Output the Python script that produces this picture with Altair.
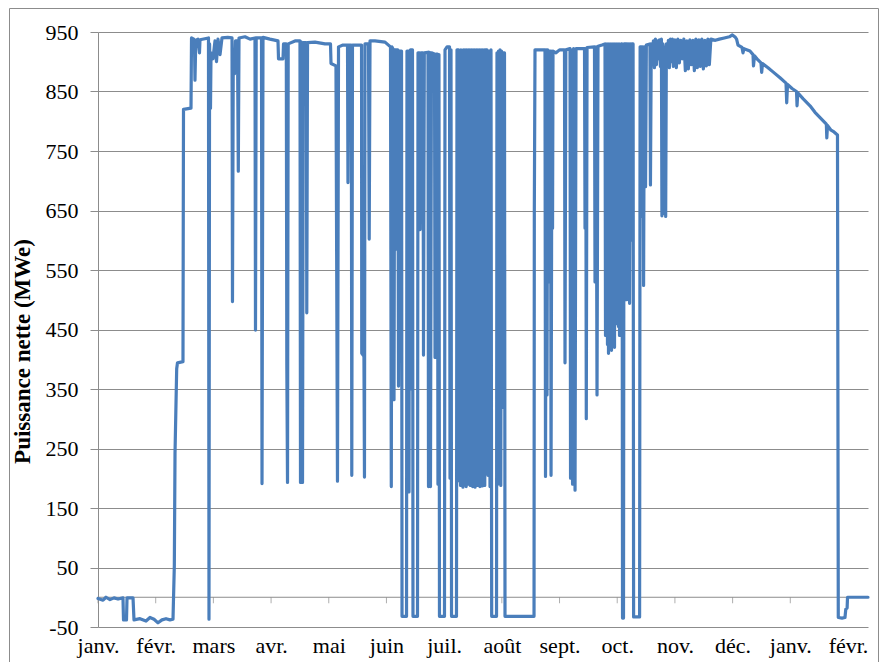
import altair as alt
import pandas as pd

month_labels = ["janv.", "févr.", "mars", "avr.", "mai", "juin", "juil.",
                "août", "sept.", "oct.", "nov.", "déc.", "janv.", "févr."]
month_ticks = list(range(14))
y_ticks = [-50, 50, 150, 250, 350, 450, 550, 650, 750, 850, 950]
y_title = "Puissance nette  (MWe)"

# (position in months from start, net power MWe)
seg_winter = [(0.000, -2), (0.087, -5), (0.139, 0), (0.208, -4), (0.277, -1), (0.347, -3),
              (0.433, -1), (0.442, -38), (0.494, -38), (0.503, -1), (0.607, -1), (0.624, -38),
              (0.728, -36), (0.832, -40), (0.901, -34), (0.971, -37), (1.040, -43), (1.109, -38),
              (1.179, -36), (1.248, -38), (1.300, -37), (1.323, 53), (1.335, 241), (1.364, 384),
              (1.378, 394), (1.473, 396), (1.482, 820), (1.612, 822), (1.621, 940)]
seg_march = [(1.660, 938), (1.672, 935), (1.681, 869), (1.695, 936), (1.733, 938), (1.759, 915),
             (1.768, 937), (1.915, 940), (1.924, -37), (1.934, 930), (1.950, 822), (1.959, 915),
             (1.993, 905), (2.028, 935), (2.054, 900), (2.080, 938), (2.115, 912), (2.149, 940),
             (2.250, 941), (2.323, 940), (2.331, 497), (2.345, 920), (2.366, 880), (2.383, 935),
             (2.418, 935), (2.432, 716), (2.444, 940), (2.548, 942), (2.635, 938), (2.721, 940),
             (2.730, 449), (2.742, 940), (2.834, 940), (2.843, 191), (2.860, 941), (2.981, 938)]
seg_april = [(3.120, 935), (3.129, 905), (3.207, 905), (3.216, 930), (3.264, 930), (3.273, 390),
             (3.285, 193), (3.297, 930), (3.415, 935), (3.501, 935), (3.510, 193), (3.527, 933),
             (3.545, 193), (3.559, 932), (3.611, 932), (3.619, 478), (3.632, 932), (3.761, 933),
             (3.935, 930)]
seg_may = [(4.030, 930), (4.039, 897), (4.125, 893), (4.151, 195), (4.169, 925), (4.247, 928),
           (4.325, 928), (4.333, 697), (4.346, 928), (4.391, 928), (4.399, 205), (4.411, 928),
           (4.507, 928), (4.568, 928), (4.572, 410), (4.610, 405), (4.619, 202), (4.628, 930),
           (4.689, 930), (4.701, 602), (4.715, 935), (4.801, 935), (4.975, 933)]
seg_june = [(5.070, 925), (5.084, 186), (5.096, 925), (5.122, 920), (5.131, 332), (5.143, 920),
            (5.174, 920), (5.183, 585), (5.196, 920), (5.209, 355), (5.226, 918), (5.261, 918),
            (5.270, -32), (5.348, -32), (5.356, 918), (5.382, 918), (5.391, 177), (5.400, 918),
            (5.408, 350), (5.416, 920), (5.451, 920), (5.460, -32), (5.538, -32), (5.547, 915),
            (5.573, 915), (5.582, 618), (5.599, 915), (5.634, 915), (5.642, 407), (5.656, 915),
            (5.720, 916), (5.729, 186), (5.746, 916), (5.763, 186), (5.780, 915), (5.833, 913),
            (5.842, 403), (5.859, 913), (5.884, 913), (5.893, 190), (5.910, 912), (5.919, -32),
            (6.006, -32), (6.015, 920)]
seg_july = [(6.050, 925), (6.093, 925), (6.102, 200), (6.119, 920), (6.128, -32), (6.214, -32),
            (6.223, 920), (6.249, 920), (6.256, 200), (6.263, 918), (6.270, 195), (6.277, 918),
            (6.284, 188), (6.291, 920), (6.298, 205), (6.305, 918), (6.312, 192), (6.319, 918),
            (6.326, 185), (6.333, 920), (6.340, 210), (6.347, 918), (6.354, 190), (6.361, 920),
            (6.368, 452), (6.375, 918), (6.382, 186), (6.389, 920), (6.396, 198), (6.403, 918),
            (6.410, 190), (6.417, 920), (6.424, 230), (6.431, 918), (6.438, 195), (6.445, 920),
            (6.452, 188), (6.459, 918), (6.466, 200), (6.473, 920), (6.480, 192), (6.487, 918),
            (6.494, 186), (6.501, 920), (6.508, 215), (6.515, 918), (6.522, 190), (6.529, 920),
            (6.536, 185), (6.543, 918), (6.550, 205), (6.557, 920), (6.564, 260), (6.571, 918),
            (6.578, 188), (6.585, 920), (6.592, 196), (6.599, 918), (6.606, 192), (6.613, 920),
            (6.620, 186), (6.627, 918), (6.634, 208), (6.641, 920), (6.648, 190), (6.655, 918),
            (6.662, 187), (6.669, 920), (6.676, 200), (6.683, 918), (6.690, 191), (6.697, 920),
            (6.704, 188), (6.711, 918), (6.717, 920), (6.743, 920), (6.760, 205), (6.777, 918),
            (6.795, 186), (6.812, 920), (6.824, -32), (6.908, -32), (6.916, 915), (6.930, 190),
            (6.942, 918), (6.956, 195), (6.968, 920), (6.982, 188), (6.994, 918), (7.008, 319),
            (7.020, 915), (7.046, 915), (7.055, -32)]
seg_aug_sep = [(7.558, -32), (7.563, 644), (7.575, 920), (7.748, 920), (7.757, 203), (7.771, 920),
               (7.783, 340), (7.795, 920), (7.806, 530), (7.818, 918), (7.844, 918), (7.853, 205),
               (7.870, 918), (7.879, 620), (7.887, 918), (7.939, 915), (8.000, 920), (8.086, 920),
               (8.095, 394), (8.109, 920), (8.182, 922), (8.191, 200), (8.208, 920), (8.226, 190),
               (8.243, 922), (8.269, 180), (8.286, 922), (8.433, 922), (8.442, 620), (8.454, 922),
               (8.464, 300), (8.477, 924), (8.606, 925), (8.615, 530), (8.633, 925), (8.650, 340),
               (8.667, 926), (8.737, 928)]
seg_oct = [(8.788, 930), (8.797, 440), (8.806, 928), (8.814, 455), (8.823, 930), (8.831, 425),
           (8.840, 928), (8.849, 410), (8.857, 930), (8.866, 445), (8.875, 928), (8.883, 430),
           (8.892, 930), (8.901, 415), (8.909, 928), (8.918, 450), (8.927, 930), (8.935, 440),
           (8.944, 928), (8.953, 420), (8.961, 930), (8.970, 465), (8.979, 928), (8.987, 460),
           (8.996, 930), (9.005, 470), (9.013, 928), (9.022, 455), (9.031, 930), (9.040, 440),
           (9.048, 928), (9.057, 480), (9.070, 930), (9.083, 930),
           (9.092, -35), (9.109, -35), (9.118, 930), (9.153, 930), (9.161, 500), (9.175, 930),
           (9.188, 560), (9.202, 930), (9.214, 494), (9.228, 930), (9.240, 600), (9.254, 930),
           (9.266, 700), (9.275, 930), (9.284, -33), (9.388, -33), (9.397, 925), (9.422, 925),
           (9.431, 640), (9.445, 925), (9.457, 524), (9.471, 925), (9.491, 690), (9.505, 928),
           (9.567, 930), (9.576, 693), (9.590, 930)]
seg_nov = [(9.610, 900), (9.627, 935), (9.645, 890), (9.662, 938), (9.679, 895), (9.697, 935),
           (9.714, 905), (9.731, 937), (9.749, 892), (9.766, 938), (9.775, 641), (9.792, 930),
           (9.809, 645), (9.827, 925), (9.840, 640), (9.852, 930), (9.870, 895), (9.887, 936),
           (9.904, 890), (9.922, 938), (9.939, 900), (9.956, 938), (9.973, 892), (9.999, 937),
           (10.025, 890), (10.051, 938), (10.077, 898), (10.103, 936), (10.129, 905), (10.155, 938),
           (10.181, 885), (10.207, 935), (10.233, 888), (10.259, 937), (10.285, 895), (10.311, 936),
           (10.337, 885), (10.363, 938), (10.389, 890), (10.415, 937), (10.441, 892), (10.467, 938),
           (10.493, 888), (10.519, 936), (10.545, 893), (10.571, 938), (10.597, 895), (10.623, 938)]
seg_dec = [(10.701, 936), (10.770, 938), (10.857, 940), (10.944, 942), (10.996, 945), (11.048, 941),
           (11.069, 938), (11.094, 928), (11.163, 924), (11.180, 915), (11.197, 922), (11.301, 918),
           (11.354, 912), (11.362, 893), (11.380, 910), (11.440, 903), (11.492, 898), (11.504, 882),
           (11.518, 897), (11.614, 890), (11.700, 883), (11.822, 873), (11.926, 864), (11.938, 831),
           (11.952, 862), (12.030, 855), (12.108, 850), (12.117, 826), (12.130, 848), (12.220, 838),
           (12.342, 826), (12.428, 815), (12.516, 806), (12.625, 795), (12.633, 772), (12.645, 793),
           (12.706, 785), (12.758, 782), (12.818, 777)]
seg_end = [(12.832, -34), (12.897, -35), (12.948, -34), (12.962, -20), (12.985, -18), (12.992, 0),
           (13.347, 0)]

segments = [seg_winter, seg_march, seg_april, seg_may, seg_june, seg_july,
            seg_aug_sep, seg_oct, seg_nov, seg_dec, seg_end]
rows = [p for seg in segments for p in seg]
df = pd.DataFrame(rows, columns=["pos", "mwe"])
df["i"] = range(len(df))

GRID = "#8c8c8c"
FONT = "Liberation Serif"
x_scale = alt.Scale(domain=[0, 13.347], nice=False, zero=False)
y_scale = alt.Scale(domain=[-50, 950], nice=False, zero=False)
label_expr = "[" + ",".join("'" + m + "'" for m in month_labels) + "][round(datum.value)]"

line = alt.Chart(df).mark_line(
    color="#4a7ebb", strokeWidth=3.2, strokeJoin="round", strokeCap="round"
).encode(
    x=alt.X("pos:Q", scale=x_scale, axis=alt.Axis(
        values=month_ticks, labelExpr=label_expr, title=None, grid=False, domain=False,
        ticks=False, tickSize=0, labelPadding=8, labelFontSize=22, labelFont=FONT,
        labelColor="black", labelFlush=False, labelOverlap=False)),
    y=alt.Y("mwe:Q", scale=y_scale, axis=alt.Axis(
        values=y_ticks, labelExpr="'' + datum.value", grid=True, gridColor=GRID, gridWidth=1,
        domain=True, domainColor=GRID, ticks=True, tickColor=GRID, tickSize=8, labelPadding=12,
        labelFontSize=22, labelFont=FONT, labelColor="black", title=y_title, titleFont=FONT,
        titleFontSize=23, titleFontWeight="bold", titleColor="black", titleAngle=270,
        titleX=-76, titleY=319, titleAlign="center", titleBaseline="middle")),
    order="i:Q",
)

zero_rule = alt.Chart(pd.DataFrame({"z": [0]})).mark_rule(color=GRID, strokeWidth=1).encode(
    y=alt.Y("z:Q", scale=y_scale)
)
axis_ticks = alt.Chart(pd.DataFrame({"m": month_ticks})).mark_tick(
    orient="vertical", color=GRID, size=6, thickness=1, yOffset=3
).encode(
    x=alt.X("m:Q", scale=x_scale),
    y=alt.Y("z:Q", scale=y_scale),
).transform_calculate(z="0")

frame = alt.Chart(pd.DataFrame({"k": [0]})).mark_rect(
    fill=None, filled=False, stroke=GRID, strokeWidth=1
).encode(
    x=alt.value(-88.5), x2=alt.value(780.5), y=alt.value(-23.5), y2=alt.value(700)
)

chart = alt.layer(frame, zero_rule, axis_ticks, line).properties(
    width=770, height=595,
    autosize=alt.AutoSizeParams(type="none"),
    padding={"left": 90, "top": 24, "right": 11, "bottom": 40},
    background="white",
).configure_view(stroke=None)

chart.save("out.html", embed_options={"renderer": "svg", "actions": False})
